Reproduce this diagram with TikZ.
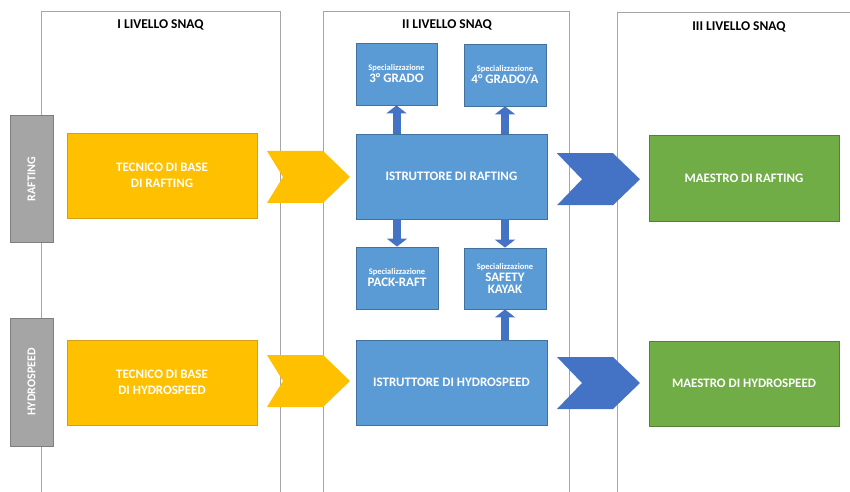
\documentclass[tikz,border=0pt]{standalone}
\usepackage{fontspec}
\setmainfont{Carlito}
\usetikzlibrary{arrows.meta,calc}

\definecolor{grigioLinea}{HTML}{A6A6A6}
\definecolor{grigioBarra}{HTML}{A5A5A5}
\definecolor{grigioBordo}{HTML}{7F7F7F}
\definecolor{giallo}{HTML}{FFC000}
\definecolor{gialloBordo}{HTML}{D4A017}
\definecolor{azzurro}{HTML}{5B9BD5}
\definecolor{azzurroBordo}{HTML}{41719C}
\definecolor{blu}{HTML}{4472C4}
\definecolor{verde}{HTML}{70AD47}
\definecolor{verdeBordo}{HTML}{548235}

\newcommand{\spec}{\fontsize{8.5}{10}\selectfont}
\newcommand{\grado}{\fontsize{13}{15}\selectfont}

\begin{document}
\begin{tikzpicture}[x=1bp,y=-1bp,
    livello/.style={draw=grigioLinea, line width=1bp},
    titolo/.style={font=\bfseries\fontsize{13.5}{15}\selectfont},
    barra/.style={draw=grigioBordo, fill=grigioBarra, line width=0.8bp, rotate=90,
      minimum width=127bp, minimum height=43bp, inner sep=0pt, text=white,
      font=\bfseries\fontsize{12}{14}\selectfont},
    box/.style={line width=0.8bp, minimum width=190bp, minimum height=85bp,
      inner sep=0pt, align=center, text=white, font=\fontsize{13}{16}\selectfont\bfseries},
    base/.style={box, draw=gialloBordo, fill=giallo},
    istruttore/.style={box, draw=azzurroBordo, fill=azzurro, minimum width=191bp},
    maestro/.style={box, draw=verdeBordo, fill=verde},
    specbox/.style={draw=azzurroBordo, fill=azzurro, line width=0.8bp, minimum width=82bp,
      minimum height=62bp, inner sep=0pt, align=center, text=white, font=\bfseries},
    freccia/.style={draw=blu, line width=8bp, -{Triangle[width=20bp,length=8bp]}},
    pics/chevron/.style={code={
      \path[pic actions] (-41.5,-26) -- (14.5,-26) -- (41.5,0) -- (14.5,26)
        -- (-41.5,26) -- (#1,0) -- cycle;}}
  ]
  \useasboundingbox (0,0) rectangle (850,492);

  % colonne dei livelli
  \draw[livello] (41,492) -- (41,12) -- (280,12) -- (280,492);
  \draw[livello] (323,492) -- (323,12) -- (569,12) -- (569,492);
  \draw[livello] (617,492) -- (617,13) -- (850,13);
  \node[titolo] (t1) at (160.5,25) {I LIVELLO SNAQ};
  \node[titolo] (t2) at (447,25) {II LIVELLO SNAQ};
  \node[titolo] (t3) at (739,27) {III LIVELLO SNAQ};

  % discipline
  \node[barra] (rafting) at (31.5,179) {RAFTING};
  \node[barra, minimum width=128bp] (hydro) at (31.5,382) {HYDROSPEED};

  % I livello
  \node[base] (tbr) at (162,175.5) {TECNICO DI BASE\\DI RAFTING};
  \node[base] (tbh) at (162,382.5) {TECNICO DI BASE\\DI HYDROSPEED};

  % II livello
  \node[istruttore] (ir) at (451.5,176.5) {ISTRUTTORE DI RAFTING};
  \node[istruttore] (ih) at (451.5,382.5) {ISTRUTTORE DI HYDROSPEED};
  \node[specbox, minimum width=81bp] (s3) at (396.5,74) {{\spec Specializzazione}\\{\grado 3° GRADO}};
  \node[specbox] (s4) at (505,75) {{\spec Specializzazione}\\{\grado 4° GRADO/A}};
  \node[specbox] (spr) at (397,278) {{\spec Specializzazione}\\{\grado PACK-RAFT}};
  \node[specbox, minimum height=61bp] (ssk) at (505,278.5) {{\spec Specializzazione}\\{\grado SAFETY}\\{\grado KAYAK}};

  % III livello
  \node[maestro, minimum height=86bp] (mr) at (744,178) {MAESTRO DI RAFTING};
  \node[maestro] (mh) at (744,383.5) {MAESTRO DI HYDROSPEED};

  % frecce
  \draw[freccia] (ir.north -| s3) -- (s3.south);
  \draw[freccia] (ir.north -| s4) -- (s4.south);
  \draw[freccia] (ir.south -| spr) -- (spr.north);
  \draw[freccia] (ir.south -| ssk) -- (ssk.north);
  \draw[freccia] (ih.north -| ssk) -- (ssk.south);

  \pic[fill=giallo] at ($(tbr.east)!0.5!(ir.west)+(2,1)$) {chevron=-25.5};
  \pic[fill=giallo] at ($(tbh.east)!0.5!(ih.west)+(2,-1.5)$) {chevron=-25.5};
  \pic[fill=blu] at ($(ir.east)!0.5!(mr.west)+(0.5,2)$) {chevron=-16.5};
  \pic[fill=blu] at ($(ih.east)!0.5!(mh.west)+(0.5,0)$) {chevron=-16.5};
\end{tikzpicture}
\end{document}
